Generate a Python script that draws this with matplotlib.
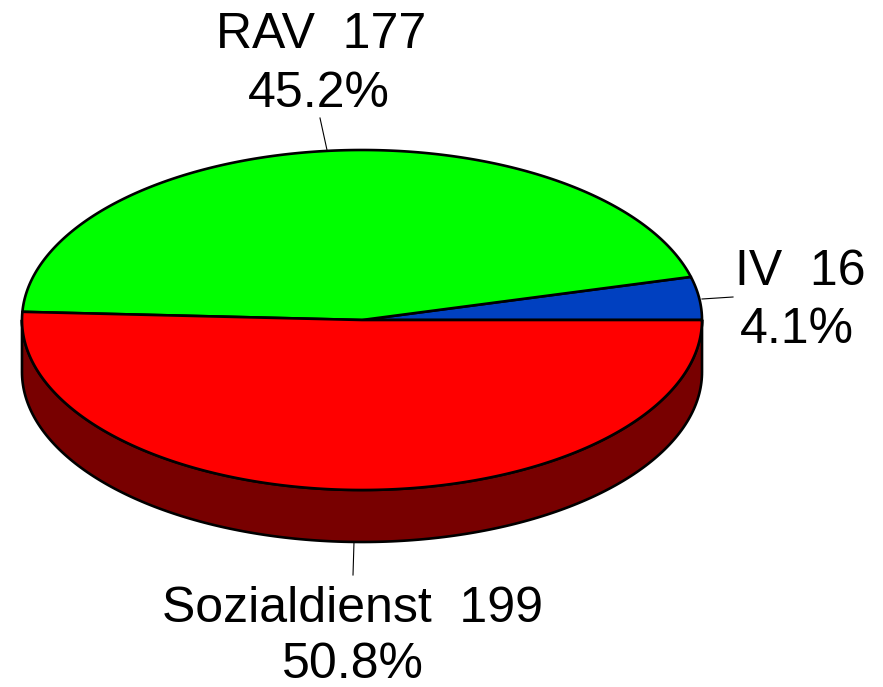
import numpy as np
import matplotlib
matplotlib.use("Agg")
import matplotlib.pyplot as plt
from matplotlib.patches import Polygon

labels = ["IV", "RAV", "Sozialdienst"]
values = [16, 177, 199]
top_colors = ["#0040C0", "#00FF00", "#FF0000"]
side_colors = ["#002070", "#008000", "#780000"]

W, H = 883, 687
fig = plt.figure(figsize=(W / 100, H / 100), dpi=100)
ax = fig.add_axes([0, 0, 1, 1])
ax.set_xlim(0, W)
ax.set_ylim(H, 0)
ax.axis("off")

cx, cy, a, b, depth = 362, 320, 340, 170, 52

def pt(theta, dy=0.0):
    return cx + a * np.cos(theta), cy - b * np.sin(theta) + dy

total = sum(values)
fracs = [v / total for v in values]
starts = np.cumsum([0] + fracs[:-1]) * 2 * np.pi
ends = np.cumsum(fracs) * 2 * np.pi

# sides (visible for angles between pi and 2pi)
for s, e, col in zip(starts, ends, side_colors):
    lo, hi = max(s, np.pi), min(e, 2 * np.pi)
    if hi <= lo:
        continue
    th = np.linspace(lo, hi, 200)
    xs, ys = pt(th)
    xb, yb = pt(th[::-1], depth)
    poly = np.column_stack([np.r_[xs, xb], np.r_[ys, yb]])
    ax.add_patch(Polygon(poly, closed=True, facecolor=col, edgecolor="black",
                         linewidth=1.9, joinstyle="round"))

# tops
for s, e, col in zip(starts, ends, top_colors):
    th = np.linspace(s, e, 300)
    xs, ys = pt(th)
    poly = np.column_stack([np.r_[cx, xs], np.r_[cy, ys]])
    ax.add_patch(Polygon(poly, closed=True, facecolor=col, edgecolor="black",
                         linewidth=1.9, joinstyle="round"))

# labels
font = dict(family=["Liberation Sans", "DejaVu Sans"], fontsize=36, ha="center",
            va="baseline", color="black")
label_pos = {
    "IV": ((800, 285), (797, 343), [(702, 299), (733, 297)]),
    "RAV": ((321, 48), (319, 107), [(327, 150), (320, 118)]),
    "Sozialdienst": ((353, 622), (353, 678), [(354, 542), (353, 575)]),
}
for lab, v, f in zip(labels, values, fracs):
    (x1, y1), (x2, y2), line = label_pos[lab]
    ax.text(x1, y1, f"{lab}  {v}", **font)
    ax.text(x2, y2, f"{f * 100:.1f}%", **font)
    ax.plot([line[0][0], line[1][0]], [line[0][1], line[1][1]], color="black", lw=0.8)

fig.savefig("out.png", dpi=100, facecolor="white")
